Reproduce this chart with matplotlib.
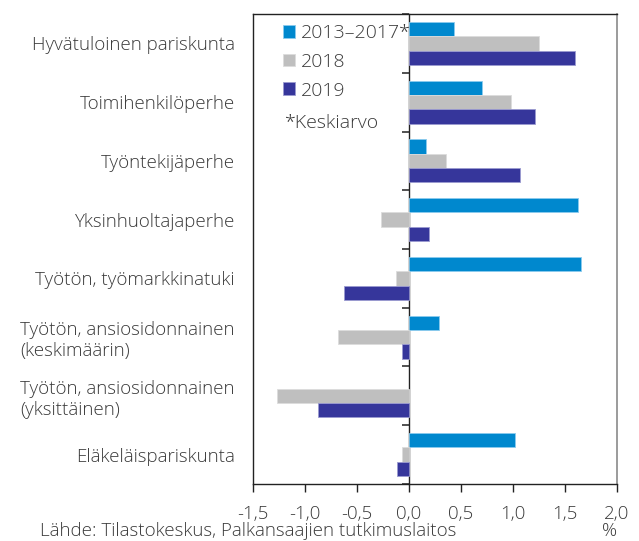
import matplotlib
matplotlib.use("Agg")
import matplotlib.pyplot as plt
import numpy as np

plt.rcParams['font.family'] = ['Open Sans', 'DejaVu Sans']

categories = ["Hyvätuloinen pariskunta", "Toimihenkilöperhe", "Työntekijäperhe",
              "Yksinhuoltajaperhe", "Työtön, työmarkkinatuki",
              "Työtön, ansiosidonnainen\n(keskimäärin)",
              "Työtön, ansiosidonnainen\n(yksittäinen)", "Eläkeläispariskunta"]
series_names = ["2013–2017*", "2018", "2019"]
v_2013_2017 = [0.43, 0.70, 0.16, 1.62, 1.65, 0.29, np.nan, 1.02]
v_2018 = [1.25, 0.98, 0.36, -0.27, -0.13, -0.68, -1.27, -0.07]
v_2019 = [1.60, 1.21, 1.07, 0.19, -0.63, -0.07, -0.88, -0.12]
xticks = [-1.5, -1.0, -0.5, 0.0, 0.5, 1.0, 1.5, 2.0]
xticklabels = ["-1,5", "-1,0", "-0,5", "0,0", "0,5", "1,0", "1,5", "2,0"]

colors = ["#0088CE", "#BFBFBF", "#36369B"]
edges = ["#8ccbee", "#dcdcdc", "#9a9ad0"]
txtc = "#3a3a3a"
fs = 13.5

fig = plt.figure(figsize=(6.39, 5.41), dpi=100)
ax = fig.add_axes([0.396, 0.1054, 0.5696, 0.8687])

n = len(categories)
y = np.arange(n)
h = 0.245
for k, vals in enumerate([v_2013_2017, v_2018, v_2019]):
    ax.barh(y + (k - 1) * h, vals, height=h, color=colors[k], edgecolor=edges[k],
            linewidth=0.6, label=series_names[k], zorder=2)

ax.set_xlim(-1.5, 2.0)
ax.set_ylim(n - 0.5, -0.5)
ax.set_xticks(xticks)
ax.set_xticklabels(xticklabels, fontsize=fs, color=txtc, fontweight='light')
ax.tick_params(axis='x', direction='out', length=6, width=1, color='#222222', pad=9)
ax.set_yticks(y)
ax.set_yticklabels(categories, fontsize=fs, color=txtc, fontweight='light', multialignment='left')
ax.tick_params(axis='y', length=0, pad=13)

for s in ['left', 'top', 'bottom']:
    ax.spines[s].set_color('#222222')
    ax.spines[s].set_linewidth(1.0)
ax.spines['right'].set_color('#8a8a8a')
ax.spines['right'].set_linewidth(1.2)

# zero axis with category separator ticks
loc = (0 - (-1.5)) / 3.5
sec = ax.secondary_yaxis(loc)
sec.set_yticks(np.arange(n + 1) - 0.5)
sec.set_yticklabels([])
sec.tick_params(direction='out', length=5, width=1.2, color='#333333')
sec.spines['left'].set_color('#222222')
sec.spines['left'].set_linewidth(1.0)

leg = ax.legend(loc='upper left', bbox_to_anchor=(0.06, 0.995), frameon=False,
                handlelength=0.65, handleheight=0.65, handletextpad=0.3,
                labelspacing=0.55, borderaxespad=0, prop={'weight': 'light', 'size': 14})
for t in leg.get_texts():
    t.set_color(txtc)
ax.text(0.085, 0.768, "*Keskiarvo", transform=ax.transAxes, fontsize=14,
        color=txtc, fontweight='light', va='center', ha='left')

fig.text(40 / 639, 1 - 531 / 541, "Lähde: Tilastokeskus, Palkansaajien tutkimuslaitos",
         fontsize=fs, color=txtc, fontweight='light', va='center', ha='left')
fig.text(617 / 639, 1 - 531 / 541, "%", fontsize=fs, color=txtc, fontweight='light',
         va='center', ha='right')

fig.savefig("out.png", dpi=100)
